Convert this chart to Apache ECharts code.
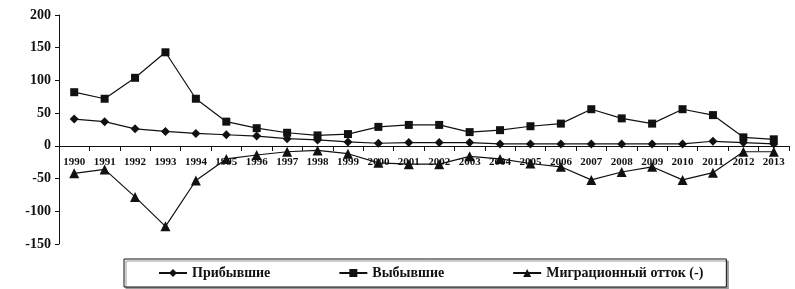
<!DOCTYPE html>
<html>
<head>
<meta charset="utf-8">
<script src="https://cdn.jsdelivr.net/npm/echarts@6/dist/echarts.min.js"></script>
<style>
  html, body { margin: 0; padding: 0; background: #fff; }
  #chart { width: 795px; height: 289px; }
</style>
</head>
<body>
<div id="chart"></div>
<script>
const years = ['1990', '1991', '1992', '1993', '1994', '1995', '1996', '1997', '1998', '1999', '2000', '2001',
  '2002', '2003', '2004', '2005', '2006', '2007', '2008', '2009', '2010', '2011', '2012', '2013']
const arrived = [41, 37, 26, 22, 19, 17, 15, 11, 9, 6, 4, 5, 5, 5, 3, 3, 3, 3, 3, 3, 3, 7, 5, 3]
const departed = [82, 72, 104, 143, 72, 37, 27, 20, 16, 18, 29, 32, 32, 21, 24, 30, 34, 56, 42, 34, 56, 47, 13, 10]
const outflow = [-42, -36, -78, -123, -53, -20, -14, -9, -7, -12, -26, -28, -28, -16, -20, -27, -32, -52, -40, -32, -52, -41, -9, -9]

const chart = echarts.init(document.getElementById('chart'))
const font = 'Liberation Serif'
const ink = '#111'

function lineSeries(name, data, symbol, size) {
  return {
    name: name,
    type: 'line',
    data: data,
    symbol: symbol,
    symbolSize: size,
    lineStyle: { color: ink, width: 1.2 },
    itemStyle: { color: ink },
    emphasis: { disabled: true }
  }
}

// x axis sits on the zero line: grid is 15..244, zero is at 200/350 of that
chart.setOption({
  animation: false,
  grid: { left: 59, right: 6, top: 15, bottom: 45 },
  xAxis: {
    type: 'category',
    data: years,
    position: 'bottom',
    offset: -98,
    axisLine: { onZero: false, lineStyle: { color: ink, width: 1 } },
    axisTick: { show: true, length: 5, lineStyle: { color: ink } },
    axisLabel: {
      margin: 11,
      color: ink,
      fontFamily: font,
      fontWeight: 'bold',
      fontSize: 11,
      interval: 0
    },
    splitLine: { show: false }
  },
  yAxis: {
    type: 'value',
    min: -150,
    max: 200,
    interval: 50,
    axisLine: { show: true, lineStyle: { color: ink, width: 1 } },
    axisTick: { show: true, length: 4, lineStyle: { color: ink } },
    axisLabel: {
      margin: 8,
      color: ink,
      fontFamily: font,
      fontWeight: 'bold',
      fontSize: 14
    },
    splitLine: { show: false }
  },
  legend: {
    left: 124,
    top: 259,
    padding: [7, 23, 7, 34],
    itemGap: 68,
    itemWidth: 28,
    itemHeight: 10,
    backgroundColor: '#fff',
    borderColor: ink,
    borderWidth: 1,
    shadowColor: '#999',
    shadowOffsetX: 2,
    shadowOffsetY: 2,
    shadowBlur: 0,
    textStyle: { color: ink, fontFamily: font, fontWeight: 'bold', fontSize: 14 },
    data: ['Прибывшие', 'Выбывшие', 'Миграционный отток (-)']
  },
  series: [
    lineSeries('Прибывшие', arrived, 'diamond', 9),
    lineSeries('Выбывшие', departed, 'rect', 8),
    lineSeries('Миграционный отток (-)', outflow, 'triangle', 10)
  ]
})
</script>
</body>
</html>
